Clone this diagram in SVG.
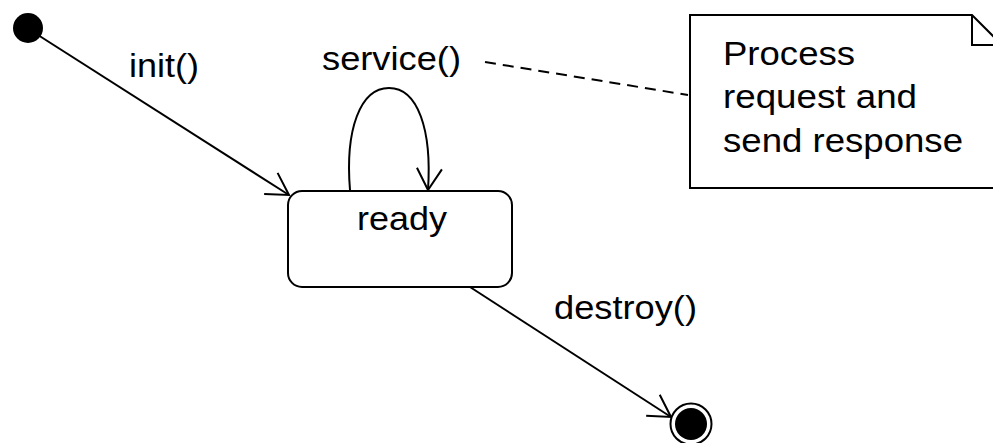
<svg xmlns="http://www.w3.org/2000/svg" width="993" height="443" viewBox="0 0 993 443">
<style>
.ln{fill:none;stroke:#000;stroke-width:2}
.t{font-family:"Liberation Sans",Arial,sans-serif;font-size:34px;fill:#000}
</style>
<defs>
<marker id="arr" markerWidth="30" markerHeight="30" refX="24" refY="14" orient="auto" markerUnits="userSpaceOnUse">
<path d="M2.5,1.5 L24,14 L2.5,26.5" fill="none" stroke="#000" stroke-width="2"/>
</marker>
</defs>
<rect width="993" height="443" fill="#fff"/>
<g id="connectors">
<line class="ln" x1="38" y1="35" x2="289" y2="195" marker-end="url(#arr)"/>
<path class="ln" d="M350,190 C345,130 360,88 389,88 C418,88 432,130 428,190" marker-end="url(#arr)"/>
<line class="ln" x1="470" y1="287" x2="671" y2="417" marker-end="url(#arr)"/>
<line class="ln" x1="485" y1="62" x2="688" y2="95" stroke-dasharray="11,7"/>
<text class="t" x="129" y="77" textLength="70" lengthAdjust="spacingAndGlyphs">init()</text>
<text class="t" x="322" y="70" textLength="139" lengthAdjust="spacingAndGlyphs">service()</text>
<text class="t" x="554" y="319" textLength="143" lengthAdjust="spacingAndGlyphs">destroy()</text>
</g>
<g id="start">
<circle cx="28" cy="28" r="15" fill="#000"/>
</g>
<g id="ready">
<rect class="ln" x="288" y="191" width="224" height="96" rx="14" fill="#fff"/>
<text class="t" x="357" y="230" textLength="90" lengthAdjust="spacingAndGlyphs">ready</text>
</g>
<g id="end">
<circle cx="691" cy="424" r="20.5" fill="#fff" stroke="#000" stroke-width="2"/>
<circle cx="691" cy="424" r="16" fill="#000"/>
</g>
<g id="note">
<path class="ln" d="M690,15 L972,15 L1010,53 L1010,188 L690,188 Z" fill="#fff"/>
<path class="ln" d="M972,15 L972,45 L1002,45"/>
<text class="t" x="723" y="65" textLength="132" lengthAdjust="spacingAndGlyphs">Process</text>
<text class="t" x="723" y="108" textLength="194" lengthAdjust="spacingAndGlyphs">request and</text>
<text class="t" x="723" y="152" textLength="240" lengthAdjust="spacingAndGlyphs">send response</text>
</g>
</svg>
